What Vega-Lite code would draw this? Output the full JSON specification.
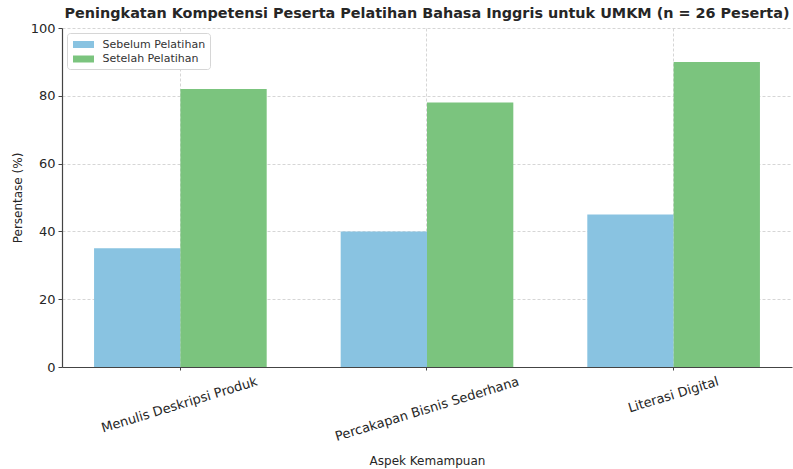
{
  "$schema": "https://vega.github.io/schema/vega-lite/v6.json",
  "autosize": "none",
  "width": 730,
  "height": 339,
  "padding": {"left": 62, "top": 28, "right": 1, "bottom": 102},
  "background": "white",
  "title": {
    "text": "Peningkatan Kompetensi Peserta Pelatihan Bahasa Inggris untuk UMKM (n = 26 Peserta)",
    "font": "DejaVu Sans",
    "fontSize": 14.4,
    "fontWeight": "bold",
    "color": "#262626",
    "anchor": "middle",
    "offset": 1
  },
  "data": {
    "values": [
      {"aspek": "Menulis Deskripsi Produk", "kondisi": "Sebelum Pelatihan", "persen": 35},
      {"aspek": "Menulis Deskripsi Produk", "kondisi": "Setelah Pelatihan", "persen": 82},
      {"aspek": "Percakapan Bisnis Sederhana", "kondisi": "Sebelum Pelatihan", "persen": 40},
      {"aspek": "Percakapan Bisnis Sederhana", "kondisi": "Setelah Pelatihan", "persen": 78},
      {"aspek": "Literasi Digital", "kondisi": "Sebelum Pelatihan", "persen": 45},
      {"aspek": "Literasi Digital", "kondisi": "Setelah Pelatihan", "persen": 90}
    ]
  },
  "mark": {"type": "bar"},
  "encoding": {
    "x": {
      "field": "aspek",
      "type": "nominal",
      "sort": ["Menulis Deskripsi Produk", "Percakapan Bisnis Sederhana", "Literasi Digital"],
      "scale": {"paddingInner": 0.3, "paddingOuter": 0.13},
      "axis": {
        "title": "Aspek Kemampuan",
        "titleFont": "DejaVu Sans",
        "titleFontSize": 12,
        "titleFontWeight": "normal",
        "titleColor": "#262626",
        "titleY": 97,
        "titleBaseline": "alphabetic",
        "bandPosition": 0.5,
        "grid": true,
        "gridColor": "#cccccc",
        "gridDash": [3, 2],
        "gridWidth": 0.8,
        "domainColor": "#444444",
        "domainWidth": 1.2,
        "tickColor": "#444444",
        "tickSize": 3,
        "labelFont": "DejaVu Sans",
        "labelFontSize": 13,
        "labelColor": "#262626",
        "labelAngle": -17,
        "labelAlign": "right",
        "labelBaseline": "top",
        "labelPadding": 5,
        "labelLimit": 0,
        "labelOverlap": false,
        "labelBound": false,
        "labelFlush": false,
        "labelOffset": {
          "condition": [
            {"test": "datum.value === 'Menulis Deskripsi Produk'", "value": 75},
            {"test": "datum.value === 'Percakapan Bisnis Sederhana'", "value": 90}
          ],
          "value": 43
        }
      }
    },
    "xOffset": {
      "field": "kondisi",
      "type": "nominal",
      "sort": ["Sebelum Pelatihan", "Setelah Pelatihan"],
      "scale": {"paddingInner": 0, "paddingOuter": 0}
    },
    "y": {
      "field": "persen",
      "type": "quantitative",
      "scale": {"domain": [0, 100], "nice": false},
      "axis": {
        "title": "Persentase (%)",
        "titleFont": "DejaVu Sans",
        "titleFontSize": 12,
        "titleFontWeight": "normal",
        "titleColor": "#262626",
        "titlePadding": 6,
        "values": [0, 20, 40, 60, 80, 100],
        "grid": true,
        "gridColor": "#cccccc",
        "gridDash": [3, 2],
        "gridWidth": 0.8,
        "domainColor": "#444444",
        "domainWidth": 1.2,
        "tickColor": "#444444",
        "tickSize": 4,
        "labelFont": "DejaVu Sans",
        "labelFontSize": 13,
        "labelColor": "#262626",
        "labelPadding": 3
      }
    },
    "color": {
      "field": "kondisi",
      "type": "nominal",
      "sort": ["Sebelum Pelatihan", "Setelah Pelatihan"],
      "scale": {"range": ["#89c3e1", "#7bc47e"]},
      "legend": {
        "title": null,
        "orient": "none",
        "legendX": 5,
        "legendY": 5,
        "fillColor": "white",
        "strokeColor": "#d6d6d6",
        "cornerRadius": 3,
        "padding": 4.5,
        "symbolType": "M-1.5,-0.5H1.5V0.5H-1.5Z",
        "symbolSize": 196,
        "symbolOffset": 5,
        "symbolStrokeWidth": 0,
        "symbolOpacity": 1,
        "labelFont": "DejaVu Sans",
        "labelFontSize": 11,
        "labelColor": "#333333",
        "rowPadding": 2.5,
        "labelOffset": 12
      }
    }
  },
  "config": {"view": {"stroke": null}}
}
